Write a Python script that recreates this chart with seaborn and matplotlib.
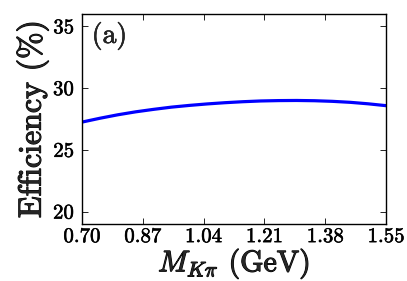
import matplotlib
matplotlib.use("Agg")
import matplotlib.pyplot as plt
import matplotlib.patheffects as pe
import pandas as pd
import seaborn as sns

# efficiency vs K-pi invariant mass
mass_gev = [0.70, 0.75, 0.80, 0.85, 0.90, 0.95, 1.00, 1.05, 1.10, 1.15,
            1.20, 1.25, 1.30, 1.35, 1.40, 1.45, 1.50, 1.55]
efficiency_pct = [27.25, 27.56, 27.84, 28.08, 28.28, 28.46, 28.60, 28.72, 28.82, 28.90,
                  28.96, 28.99, 29.00, 28.98, 28.93, 28.85, 28.73, 28.58]
x_ticks = [0.70, 0.87, 1.04, 1.21, 1.38, 1.55]
y_ticks = [20, 25, 30, 35]

df = pd.DataFrame({"mass": mass_gev, "eff": efficiency_pct})

sns.set_style("ticks")
plt.rcParams["font.family"] = ["cmr10", "DejaVu Serif"]
plt.rcParams["mathtext.fontset"] = "cm"
plt.rcParams["axes.formatter.use_mathtext"] = True

fig = plt.figure(figsize=(4.07, 2.81), dpi=100)
ax = fig.add_axes([82 / 407, 1 - 224 / 281, 304 / 407, 210 / 281])

sns.lineplot(data=df, x="mass", y="eff", ax=ax, color="#0000ff", linewidth=2.3)

ax.set_xlim(0.70, 1.55)
ax.set_ylim(19, 36)
ax.set_xticks(x_ticks)
ax.set_xticklabels([f"{t:.2f}" for t in x_ticks])
ax.set_yticks(y_ticks)
ax.tick_params(direction="in", length=4, width=0.6, top=True, right=True,
               labelsize=15, colors="black")
ax.tick_params(axis="x", pad=3)
ax.tick_params(axis="y", pad=5)
for s in ax.spines.values():
    s.set_linewidth(1.0)
    s.set_color("black")

# the reference text is a bit heavier than plain cmr10, thicken slightly
heavy = [pe.withStroke(linewidth=0.8, foreground="black")]
light = [pe.withStroke(linewidth=0.4, foreground="black")]

ax.set_xlabel(r"$M_{K\pi}$ (GeV)", fontsize=21.5, labelpad=0,
              path_effects=heavy)
ax.set_ylabel("Efficiency (%)", fontsize=23, labelpad=3, path_effects=heavy)
for lbl in ax.get_xticklabels() + ax.get_yticklabels():
    lbl.set_path_effects(light)
ax.annotate("(a)", xy=(0, 1), xycoords="axes fraction", xytext=(7, -5),
            textcoords="offset points", fontsize=20, va="top", ha="left",
            path_effects=light)

fig.savefig("out.png", dpi=100)
